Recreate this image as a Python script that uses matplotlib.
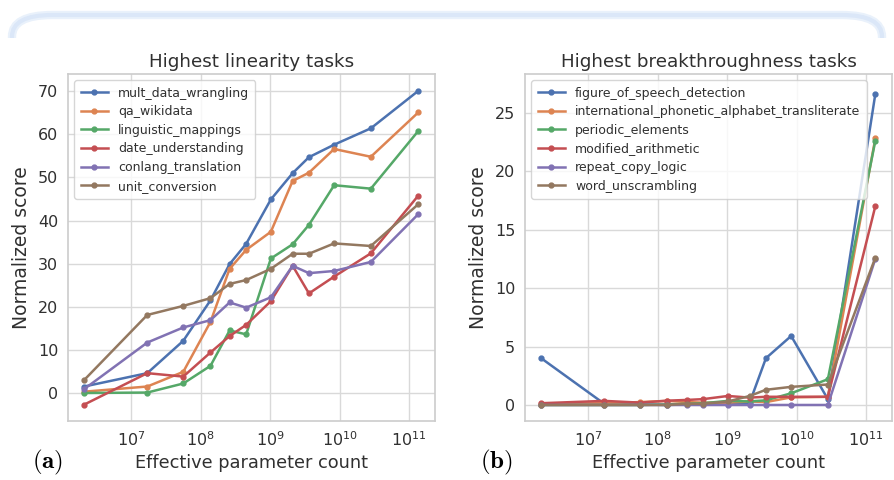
import numpy as np
import matplotlib
matplotlib.use("Agg")
import matplotlib.pyplot as plt
from matplotlib.patches import FancyBboxPatch, Rectangle

plt.rcParams['font.family'] = ['DejaVu Sans']
plt.rcParams['mathtext.fontset'] = 'dejavusans'

params = [2.1e6, 1.7e7, 5.6e7, 1.38e8, 2.6e8, 4.5e8, 1.02e9, 2.1e9, 3.6e9, 8.3e9, 2.8e10, 1.35e11]

lin_names = ["mult_data_wrangling", "qa_wikidata", "linguistic_mappings",
             "date_understanding", "conlang_translation", "unit_conversion"]
mult_data_wrangling = [1.5, 4.6, 12.1, 21.5, 29.9, 34.6, 44.9, 51.0, 54.7, 57.6, 61.4, 70.1]
qa_wikidata = [0.3, 1.5, 4.9, 16.5, 28.8, 33.2, 37.4, 49.2, 51.1, 56.6, 54.8, 65.1]
linguistic_mappings = [0.0, 0.1, 2.2, 6.3, 14.5, 13.6, 31.2, 34.5, 39.0, 48.2, 47.4, 60.8]
date_understanding = [-2.7, 4.6, 3.8, 9.4, 13.2, 15.8, 21.3, 29.5, 23.1, 27.0, 32.4, 45.8]
conlang_translation = [0.9, 11.7, 15.2, 16.9, 21.0, 19.8, 22.2, 29.5, 27.8, 28.3, 30.4, 41.5]
unit_conversion = [3.0, 18.1, 20.2, 22.0, 25.3, 26.2, 28.8, 32.3, 32.3, 34.7, 34.1, 43.8]
lin_series = [mult_data_wrangling, qa_wikidata, linguistic_mappings,
              date_understanding, conlang_translation, unit_conversion]

br_names = ["figure_of_speech_detection", "international_phonetic_alphabet_transliterate",
            "periodic_elements", "modified_arithmetic", "repeat_copy_logic", "word_unscrambling"]
figure_of_speech_detection = [4.0, 0.1, 0.05, 0.0, 0.05, 0.05, 0.1, 0.2, 4.0, 5.9, 0.5, 26.6]
ipa_transliterate = [0.1, 0.15, 0.25, 0.35, 0.25, 0.2, 0.2, 0.3, 0.25, 0.65, 0.7, 22.8]
periodic_elements = [0.0, 0.0, 0.0, 0.05, 0.1, 0.15, 0.35, 0.3, 0.4, 1.0, 2.2, 22.6]
modified_arithmetic = [0.15, 0.35, 0.2, 0.37, 0.43, 0.5, 0.77, 0.63, 0.7, 0.7, 0.7, 17.0]
repeat_copy_logic = [0.0, 0.0, 0.0, 0.0, 0.0, 0.0, 0.0, 0.0, 0.0, 0.0, 0.0, 12.5]
word_unscrambling = [0.0, 0.0, 0.0, 0.0, 0.1, 0.1, 0.3, 0.77, 1.3, 1.55, 1.75, 12.6]
br_series = [figure_of_speech_detection, ipa_transliterate, periodic_elements,
             modified_arithmetic, repeat_copy_logic, word_unscrambling]

colors = ['#4c72b0', '#dd8452', '#55a868', '#c44e52', '#8172b3', '#937860']

fig = plt.figure(figsize=(8.94, 4.8), dpi=100)

# decorative card frame (only the top part shows)
clip = Rectangle((0, 1 - 38 / 480), 1, 38 / 480, transform=fig.transFigure)
for lw, col in [(6, '#e9f1fb'), (3, '#dbe7f8')]:
    card = FancyBboxPatch((12 / 894, -0.2), 870 / 894, (480 - 15) / 480 + 0.2,
                          boxstyle="round,pad=0,rounding_size=0.045",
                          transform=fig.transFigure, facecolor='none',
                          edgecolor=col, linewidth=lw, zorder=-10)
    fig.patches.append(card)
    card.set_clip_path(clip)

ax1 = fig.add_axes([68 / 894, 59 / 480, 367 / 894, 347 / 480])
ax2 = fig.add_axes([525 / 894, 59 / 480, 367 / 894, 347 / 480])

def style(ax):
    ax.set_facecolor('white')
    ax.set_xscale('log')
    ax.set_xlim(10 ** 6.09, 10 ** 11.37)
    ax.grid(True, color='#d9d9d9', linewidth=1.0)
    ax.set_axisbelow(True)
    for s in ax.spines.values():
        s.set_color('#cccccc')
        s.set_linewidth(1.2)
    ax.tick_params(axis='both', which='both', length=0, labelsize=11.5,
                   labelcolor='#303030', pad=7)
    ax.minorticks_off()
    ax.set_xticks([1e7, 1e8, 1e9, 1e10, 1e11])
    ax.set_xlabel("Effective parameter count", fontsize=12.8, color='#303030', labelpad=3)
    ax.set_ylabel("Normalized score", fontsize=13.5, color='#303030', labelpad=5)

for ax, names, series, title in [(ax1, lin_names, lin_series, "Highest linearity tasks"),
                                 (ax2, br_names, br_series, "Highest breakthroughness tasks")]:
    style(ax)
    for name, vals, c in zip(names, series, colors):
        ax.plot(params, vals, color=c, marker='o', markersize=3.5, linewidth=1.8, label=name)
    ax.set_title(title, fontsize=13.2, color='#303030', pad=5)
    leg = ax.legend(loc='upper left', fontsize=9, frameon=True, handlelength=2.2,
                    borderpad=0.5, labelspacing=0.45, handletextpad=0.8,
                    borderaxespad=0.5)
    leg.get_frame().set_edgecolor('#cccccc')
    for t in leg.get_texts():
        t.set_color('#303030')

ax1.set_ylim(-6.5, 74)
ax1.set_yticks([0, 10, 20, 30, 40, 50, 60, 70])
ax2.set_ylim(-1.37, 28.3)
ax2.set_yticks([0, 5, 10, 15, 20, 25])

fig.text(48 / 894, 1 - 462 / 480, r'$\mathbf{(a)}$', fontsize=18, ha='center', va='center',
         math_fontfamily='cm')
fig.text(496 / 894, 1 - 462 / 480, r'$\mathbf{(b)}$', fontsize=18, ha='center', va='center',
         math_fontfamily='cm')

fig.savefig("out.png", dpi=100)
